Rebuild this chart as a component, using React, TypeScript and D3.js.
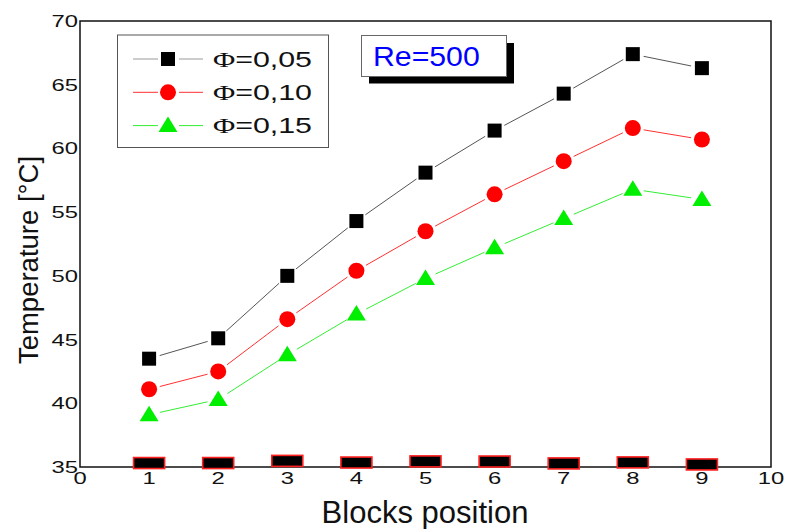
import React from 'react';
import * as d3 from 'd3';

// block index along the channel
const positions = [1, 2, 3, 4, 5, 6, 7, 8, 9];
// block temperatures [°C] for each volume fraction
const phi005 = [43.5, 45.1, 50.0, 54.3, 58.1, 61.4, 64.3, 67.4, 66.3];
const phi010 = [41.1, 42.5, 46.6, 50.4, 53.5, 56.4, 59.0, 61.6, 60.7];
const phi015 = [39.1, 40.3, 43.8, 47.0, 49.8, 52.2, 54.5, 56.8, 56.0];
// level of the heated blocks drawn on the bottom wall
const blockLevels = [35.31, 35.31, 35.48, 35.35, 35.44, 35.43, 35.28, 35.36, 35.2];

const seriesLabels = ['0,05', '0,10', '0,15'];
const xTicks = d3.range(0, 11);
const yTicks = [35, 40, 45, 50, 55, 60, 65, 70];

const W = 786;
const H = 529;
const FONT = '"Liberation Sans", Arial, sans-serif';

const x = d3.scaleLinear().domain([0, 10]).range([80, 771]);
const y = d3.scaleLinear().domain([35, 70]).range([467, 21]);

type Shape = 'square' | 'circle' | 'triangle';

const series = [
  { values: phi005, line: '#555', fill: '#000', shape: 'square' as Shape, legendLine: '#999' },
  { values: phi010, line: '#ff3030', fill: '#ff0000', shape: 'circle' as Shape, legendLine: '#ff3030' },
  { values: phi015, line: '#33ee33', fill: '#00ee00', shape: 'triangle' as Shape, legendLine: '#33ee33' },
];

const Marker = ({ shape, cx, cy, fill }: { shape: Shape; cx: number; cy: number; fill: string }) => {
  if (shape === 'square') return <rect x={cx - 7} y={cy - 7} width={14} height={14} fill={fill} />;
  if (shape === 'circle') return <circle cx={cx} cy={cy} r={8} fill={fill} />;
  return <path d={`M${cx},${cy - 9}L${cx + 9.5},${cy + 6.5}L${cx - 9.5},${cy + 6.5}Z`} fill={fill} />;
};

// Origin-style line: leave a gap around each symbol
const gappedSegments = (pts: [number, number][], gap: number) => {
  const segs: string[] = [];
  for (let i = 0; i < pts.length - 1; i++) {
    const [x1, y1] = pts[i];
    const [x2, y2] = pts[i + 1];
    const d = Math.hypot(x2 - x1, y2 - y1);
    if (d <= 2 * gap) continue;
    const ux = (x2 - x1) / d, uy = (y2 - y1) / d;
    segs.push(`M${x1 + ux * gap},${y1 + uy * gap}L${x2 - ux * gap},${y2 - uy * gap}`);
  }
  return segs.join('');
};

// stretched text, as in the original export
const SText = ({ x: tx, y: ty, sx = 1, size, anchor = 'start', fill = '#111', children }: any) => (
  <text
    transform={`translate(${tx},${ty}) scale(${sx},1)`}
    fontSize={size}
    textAnchor={anchor}
    fill={fill}
    fontFamily={FONT}
  >
    {children}
  </text>
);

export default function App() {
  const [x0, x1] = x.range();
  const [yb, yt] = y.range();
  const blockW = 31;
  const blockH = 11;

  return (
    <div style={{ position: 'absolute', left: 0, top: 0 }}>
      <svg width={W} height={H} style={{ display: 'block', background: '#fff' }}>
        {/* frame */}
        <rect x={x0} y={yt} width={x1 - x0} height={yb - yt} fill="none" stroke="#111" strokeWidth={1.5} />

        {/* y ticks */}
        {yTicks.map(t => (
          <SText key={t} x={78} y={y(t) + 6} sx={1.4} size={17} anchor="end">{t}</SText>
        ))}
        {/* x ticks */}
        {xTicks.map(t => (
          <SText key={t} x={x(t)} y={484} sx={1.4} size={17} anchor="middle">{t}</SText>
        ))}

        {/* axis titles */}
        <text
          transform={`translate(38,${(y(35) + y(70)) / 2 + 16}) rotate(-90)`}
          fontSize={27.5}
          textAnchor="middle"
          fill="#111"
          fontFamily={FONT}
        >
          Temperature [°C]
        </text>
        <text x={425} y={523} fontSize={31} textAnchor="middle" fill="#111" fontFamily={FONT}>
          Blocks position
        </text>

        {/* heated blocks on bottom wall */}
        {positions.map((p, i) => (
          <rect
            key={p}
            x={x(p) - blockW / 2}
            y={y(blockLevels[i]) - blockH / 2}
            width={blockW}
            height={blockH}
            fill="#000"
            stroke="#ff2020"
            strokeWidth={1.6}
          />
        ))}

        {/* series */}
        {series.map((s, si) => {
          const pts = positions.map((p, i) => [x(p), y(s.values[i])] as [number, number]);
          return (
            <g key={si}>
              <path d={gappedSegments(pts, 11)} stroke={s.line} strokeWidth={1} fill="none" />
              {pts.map(([cx, cy], i) => (
                <Marker key={i} shape={s.shape} cx={cx} cy={cy} fill={s.fill} />
              ))}
            </g>
          );
        })}

        {/* legend */}
        <rect x={117.5} y={35} width={211} height={112.5} fill="#fff" stroke="#555" strokeWidth={1} />
        {series.map((s, si) => {
          const cy = 59 + si * 33.3;
          return (
            <g key={si}>
              <line x1={133} x2={158} y1={cy} y2={cy} stroke={s.legendLine} strokeWidth={1} />
              <line x1={179} x2={203} y1={cy} y2={cy} stroke={s.legendLine} strokeWidth={1} />
              <Marker shape={s.shape} cx={168} cy={cy} fill={s.fill} />
              <g transform={`translate(213,${cy + 7.5}) scale(1.38,1)`}>
                <text fontSize={22} fill="#111" fontFamily={FONT}>
                  <tspan fontFamily='"Liberation Serif", serif'>Φ</tspan>=0,{seriesLabels[si].slice(2)}
                </text>
              </g>
            </g>
          );
        })}

        {/* Re box with shadow */}
        <rect x={369} y={43} width={145} height={40.5} fill="#000" />
        <rect x={361.5} y={35.5} width={145} height={41} fill="#fff" stroke="#666" strokeWidth={1} />
        <SText x={373} y={66} sx={1.08} size={28} fill="#0000ff">Re=500</SText>
      </svg>
    </div>
  );
}
